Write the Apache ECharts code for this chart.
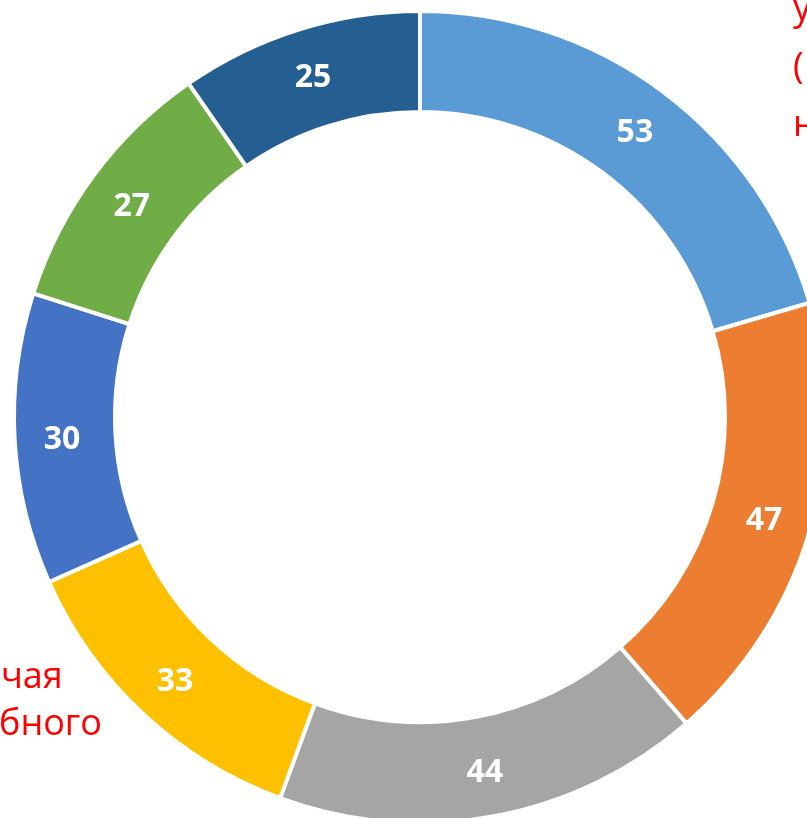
<!DOCTYPE html>
<html>
<head>
<meta charset="utf-8">
<script src="https://cdn.jsdelivr.net/npm/echarts@6/dist/echarts.min.js"></script>
<style>
  html, body { margin: 0; padding: 0; background: #fff; }
  #main { width: 807px; height: 818px; }
</style>
</head>
<body>
<div id="main"></div>
<script>
// segments, clockwise from 12 o'clock
var categories = ['Сегмент 1', 'Сегмент 2', 'Сегмент 3', 'Сегмент 4', 'Сегмент 5', 'Сегмент 6', 'Сегмент 7'];
var values = [53, 47, 44, 33, 30, 27, 25];
var colors = ['#5B9BD5', '#ED7D31', '#A5A5A5', '#FFC000', '#4472C4', '#70AD47', '#255E91'];

// red label fragments cut off by the picture edge
var rightLines = ['у', '(', 'н'];
var leftLines = ['чая', 'бного'];

var chart = echarts.init(document.getElementById('main'), null, { renderer: 'canvas' });

var pieData = values.map(function (v, i) {
  return { name: categories[i], value: v, itemStyle: { color: colors[i] } };
});

var redFont = '36px "Open Sans", "Noto Sans", sans-serif';

var option = {
  animation: false,
  series: [{
    type: 'pie',
    center: [420, 417],
    radius: [305, 406],
    startAngle: 90,
    clockwise: true,
    avoidLabelOverlap: false,
    itemStyle: {
      borderColor: '#fff',
      borderWidth: 4
    },
    label: {
      show: true,
      position: 'inside',
      formatter: '{c}',
      color: '#fff',
      fontSize: 32,
      fontWeight: 'bold',
      fontFamily: 'Open Sans',
      offset: [0, 3]
    },
    labelLine: { show: false },
    emphasis: { disabled: true },
    data: pieData
  }],
  graphic: [
    { type: 'text', left: 793, top: -8, style: { text: rightLines[0], font: redFont, fill: '#ff0000' } },
    { type: 'text', left: 793, top: 50, style: { text: rightLines[1], font: redFont, fill: '#ff0000' } },
    { type: 'text', left: 793, top: 108, style: { text: rightLines[2], font: redFont, fill: '#ff0000' } },
    { type: 'text', left: 1, top: 660, style: { text: leftLines[0], font: redFont, fill: '#ff0000' } },
    { type: 'text', left: -1, top: 707, style: { text: leftLines[1], font: redFont, fill: '#ff0000' } }
  ]
};

chart.setOption(option);
</script>
</body>
</html>
